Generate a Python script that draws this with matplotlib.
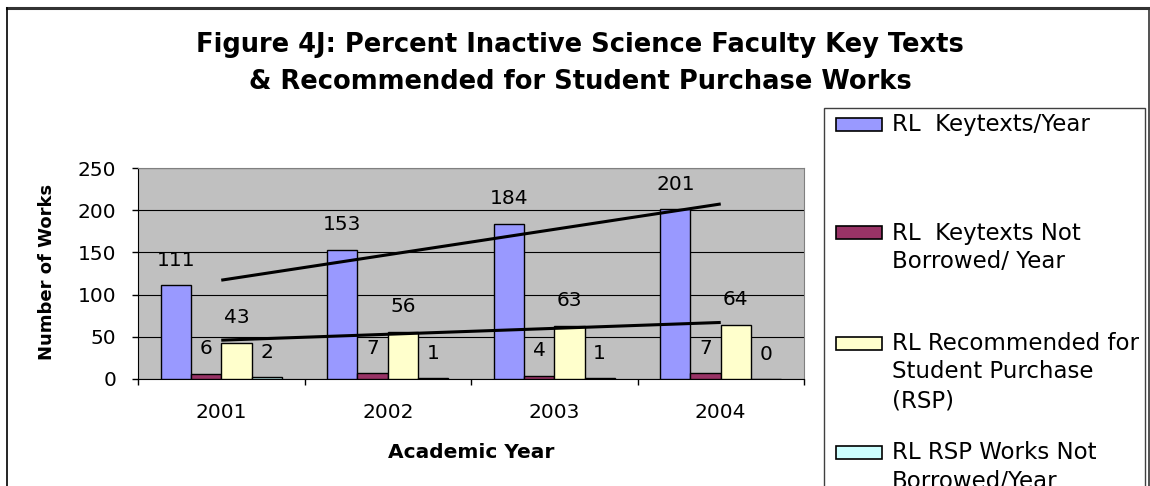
import numpy as np
import matplotlib
matplotlib.use('Agg')
import matplotlib.pyplot as plt
from matplotlib.patches import Rectangle
from matplotlib.lines import Line2D

# ---------------- data ----------------
years = ['2001', '2002', '2003', '2004']
keytexts = [111, 153, 184, 201]
keytexts_not_borrowed = [6, 7, 4, 7]
rsp = [43, 56, 63, 64]
rsp_not_borrowed = [2, 1, 1, 0]
series_names = ['RL  Keytexts/Year',
                'RL  Keytexts Not\nBorrowed/ Year',
                'RL Recommended for\nStudent Purchase\n(RSP)',
                'RL RSP Works Not\nBorrowed/Year']
colors = ['#9999FF', '#993366', '#FFFFCC', '#CCFFFF']
title = ('Figure 4J: Percent Inactive Science Faculty Key Texts\n'
         '& Recommended for Student Purchase Works')
yticks = [0, 50, 100, 150, 200, 250]
xlabel = 'Academic Year'
ylabel = 'Number of Works'

# ---------------- layout helpers ----------------
W, H = 1150, 486
fig = plt.figure(figsize=(W / 100, H / 100), dpi=100)
fig.patch.set_facecolor('white')


def fx(p):
    return p / W


def fy(p):
    return 1 - p / H


# outer frame
fig.add_artist(Line2D([fx(7), fx(1149)], [fy(8), fy(8)], color='#333333', lw=2.2))
fig.add_artist(Line2D([fx(7), fx(7)], [fy(8), fy(500)], color='black', lw=1.2))
fig.add_artist(Line2D([fx(1149), fx(1149)], [fy(8), fy(500)], color='#333333', lw=1.2))

# ---------------- plot area ----------------
ax = fig.add_axes([fx(138), fy(379), fx(804) - fx(138), fy(168) - fy(379)])
ax.set_facecolor('#C0C0C0')
x = np.arange(len(years))
w = 1 / 5.5
data = [keytexts, keytexts_not_borrowed, rsp, rsp_not_borrowed]
for i, (vals, c) in enumerate(zip(data, colors)):
    pos = x + (i - 1.5) * w
    ax.bar(pos, vals, width=w, color=c, edgecolor='black', linewidth=1.0, zorder=3)
    for p, v in zip(pos, vals):
        ax.annotate(str(v), (p, v), xytext=(0, 18), textcoords='offset points',
                    ha='center', va='center', fontsize=14.5, zorder=5)

# linear trendlines for the two larger series
for vals in (keytexts, rsp):
    k, b = np.polyfit(x, vals, 1)
    ax.plot([x[0], x[-1]], [k * x[0] + b, k * x[-1] + b], color='black',
            lw=2.2, zorder=4, solid_capstyle='butt')

ax.set_xlim(-0.5, len(years) - 0.5)
ax.set_ylim(0, 250)
ax.set_yticks(yticks)
ax.yaxis.grid(True, color='black', lw=0.8)
ax.set_axisbelow(True)
ax.set_xticks(np.arange(len(years) + 1) - 0.5)
ax.set_xticklabels([])
ax.set_xticks(x, minor=True)
ax.set_xticklabels(years, minor=True, fontsize=14.5)
ax.tick_params(axis='x', which='minor', length=0, pad=17)
ax.tick_params(axis='x', which='major', length=4.5, width=1, direction='out')
ax.tick_params(axis='y', length=4.5, width=1, direction='out', pad=11, labelsize=14.5)
for s in ('top', 'right'):
    ax.spines[s].set_color('#808080')
for s in ('left', 'bottom'):
    ax.spines[s].set_color('black')

# axis titles
fig.text(fx(47), fy(272), ylabel, rotation=90, ha='center', va='center',
         fontsize=13, fontweight='bold')
fig.text(fx(471), fy(452), xlabel, ha='center', va='center',
         fontsize=14.5, fontweight='bold')

# chart title
for k, line in enumerate(title.split('\n')):
    fig.text(fx(580), fy(45 + 37 * k), line, ha='center', va='center',
             fontsize=18.5, fontweight='bold')

# ---------------- legend ----------------
fig.add_artist(Rectangle((fx(824), fy(520)), fx(1145) - fx(824), fy(108) - fy(520),
                         facecolor='white', edgecolor='#404040', lw=1.0))
entry_y = [125, 233, 343, 452]
for name, c, ey in zip(series_names, colors, entry_y):
    fig.add_artist(Rectangle((fx(836), fy(ey + 6.5)), fx(882) - fx(836), 13 / H,
                             facecolor=c, edgecolor='black', lw=1.2))
    for k, line in enumerate(name.split('\n')):
        fig.text(fx(892), fy(ey + 29 * k), line, ha='left', va='center', fontsize=16.5)

fig.savefig('out.png', dpi=100)
